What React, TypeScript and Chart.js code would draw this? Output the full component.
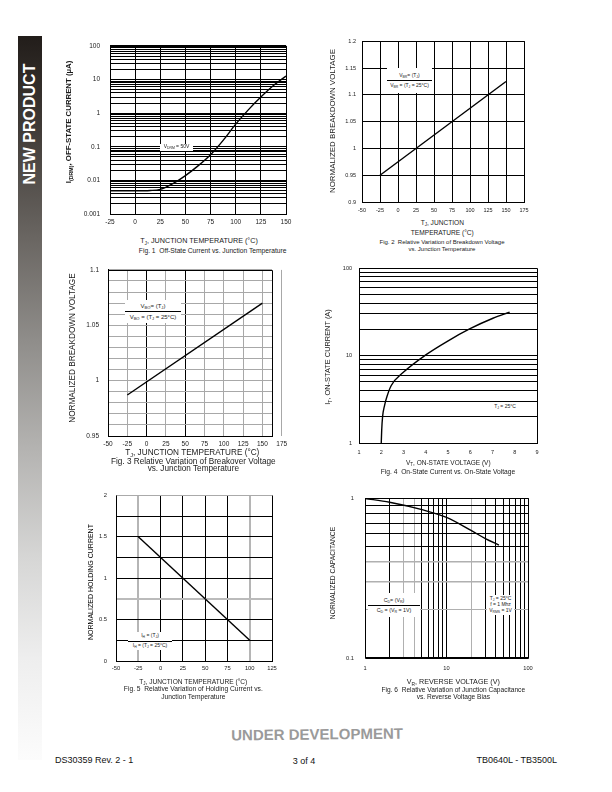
import React, { useEffect, useRef } from 'react';
import { Chart, registerables } from 'chart.js';

Chart.register(...registerables);

const FONT = "'Liberation Sans', Arial, Helvetica, sans-serif";

// ---------- grid helper (log decades with 1..9 minor lines) ----------
const logGrid = (a: number, b: number) => {
  const out: number[] = [];
  for (let e = a; e < b; e++) for (let m = 1; m < 10; m++) out.push(Number((m * Math.pow(10, e)).toPrecision(6)));
  out.push(Number(Math.pow(10, b).toPrecision(6)));
  return out;
};

// ---------- Fig 1 : Off-state current vs junction temperature ----------
const fig1Temp = [-25, 0, 15, 25, 37.5, 50, 62.5, 75, 87.5, 100, 112.5, 125, 137.5, 150];
const fig1Current = [0.0049, 0.0049, 0.005, 0.0054, 0.008, 0.0139, 0.027, 0.058, 0.155, 0.47, 1.25, 3.0, 6.6, 12.7];
const fig1XTicks = [-25, 0, 25, 50, 75, 100, 125, 150];
const fig1YTicks = logGrid(-3, 2);
const fig1YLabels = [0.001, 0.01, 0.1, 1, 10, 100];

// ---------- Fig 2 : breakdown voltage ----------
const fig2Temp = [-25, 150];
const fig2Value = [0.95, 1.125];
const fig2XTicks = [-50, -25, 0, 25, 50, 75, 100, 125, 150, 175];
const fig2YTicks = [0.9, 0.95, 1, 1.05, 1.1, 1.15, 1.2];

// ---------- Fig 3 : breakover voltage ----------
const fig3Temp = [-25, 150];
const fig3Value = [0.987, 1.07];
const fig3XTicks = [-50, -25, 0, 25, 50, 75, 100, 125, 150, 175];
const fig3YTicks = [0.95, 0.96, 0.97, 0.98, 0.99, 1, 1.01, 1.02, 1.03, 1.04, 1.05, 1.06, 1.07, 1.08, 1.09, 1.1];
const fig3YLabels = [0.95, 1, 1.05, 1.1];

// ---------- Fig 4 : on-state current vs voltage ----------
const fig4Voltage = [2.0, 2.02, 2.06, 2.15, 2.25, 2.45, 2.98, 4.0, 4.97, 5.97, 7.02, 7.77];
const fig4Current = [1, 1.4, 2.0, 2.7, 3.36, 4.55, 6.4, 10.2, 14.6, 20.2, 26.8, 31.4];
const fig4XTicks = [1, 2, 3, 4, 5, 6, 7, 8, 9];
const fig4YTicks = logGrid(0, 2);
const fig4YLabels = [1, 10, 100];

// ---------- Fig 5 : holding current ----------
const fig5Temp = [-25, 100];
const fig5Value = [1.5, 0.25];
const fig5XTicks = [-50, -25, 0, 25, 50, 75, 100, 125];
const fig5YTicks = [0, 0.25, 0.5, 0.75, 1, 1.25, 1.5, 1.75, 2];
const fig5YLabels = [0, 0.5, 1, 1.5, 2];

// ---------- Fig 6 : junction capacitance ----------
const fig6Voltage = [1, 2, 5, 10, 20, 30, 44];
const fig6Cap = [1, 0.946, 0.85, 0.76, 0.63, 0.56, 0.51];
const fig6XTicks = logGrid(0, 2);
const fig6XLabels = [1, 10, 100];
const fig6YTicks = logGrid(-1, 0);
const fig6YLabels = [0.1, 1];

type Frame = { L: number; T: number; R: number; B: number; padL: number; padT: number; padR: number; padB: number };

interface AxisSpec {
  type: 'linear' | 'logarithmic';
  min: number;
  max: number;
  ticks: number[];
  labels: number[];
  pad: number;
  size: number;
  grid?: boolean;
  color?: (v: number) => string;
  width?: (v: number) => number;
}

function axis(kind: 'x' | 'y', f: Frame, a: AxisSpec) {
  return {
    type: a.type,
    min: a.min,
    max: a.max,
    position: kind === 'x' ? 'bottom' : 'left',
    afterBuildTicks: (s: any) => {
      s.ticks = a.ticks.map((v) => ({ value: v }));
    },
    afterFit: (s: any) => {
      if (kind === 'x') s.height = f.padB;
      else s.width = f.padL;
    },
    grid: {
      display: a.grid !== false,
      drawTicks: false,
      color: (c: any) => (a.color ? a.color(c.tick ? c.tick.value : NaN) : '#000'),
      lineWidth: (c: any) => (a.width ? a.width(c.tick ? c.tick.value : NaN) : 1),
    },
    border: { display: true, color: '#000', width: 1 },
    ticks: {
      autoSkip: false,
      maxRotation: 0,
      minRotation: 0,
      padding: a.pad,
      color: '#1a1a1a',
      font: { family: FONT, size: a.size },
      callback: (v: any) => (a.labels.indexOf(Number(v)) >= 0 ? String(v) : ''),
    },
  };
}

const framePlugin = {
  id: 'frame',
  afterDraw(chart: any, _a: any, o: any) {
    const { left, top, right, bottom } = chart.chartArea;
    const ctx = chart.ctx;
    const l = Math.round(left) + 0.5;
    const r = Math.round(right) + 0.5;
    const t = Math.round(top) + 0.5;
    const b = Math.round(bottom) + 0.5;
    ctx.save();
    ctx.lineWidth = 1;
    ctx.strokeStyle = '#000';
    ctx.beginPath();
    ctx.moveTo(l, t);
    ctx.lineTo(l, b);
    ctx.lineTo(r, b);
    ctx.lineTo(r, t);
    ctx.stroke();
    ctx.strokeStyle = (o && o.top) || '#000';
    ctx.beginPath();
    ctx.moveTo(l, t);
    ctx.lineTo(r, t);
    ctx.stroke();
    ctx.restore();
  },
};

function lineConfig(f: Frame, xs: number[], ys: number[], xa: AxisSpec, ya: AxisSpec, frameOpts: any = {}) {
  return {
    type: 'line',
    data: {
      datasets: [
        {
          data: xs.map((x, i) => ({ x, y: ys[i] })),
          borderColor: '#000',
          borderWidth: 1.4,
          pointRadius: 0,
          cubicInterpolationMode: 'monotone',
          fill: false,
        },
      ],
    },
    options: {
      animation: false,
      responsive: false,
      maintainAspectRatio: false,
      devicePixelRatio: 1,
      events: [],
      layout: { padding: { left: 0, top: f.padT, right: f.padR, bottom: 0 } },
      plugins: { legend: { display: false }, tooltip: { enabled: false }, title: { display: false }, frame: frameOpts },
      scales: { x: axis('x', f, xa), y: axis('y', f, ya) },
    },
    plugins: [framePlugin],
  } as any;
}

function ChartCanvas({ frame, build }: { frame: Frame; build: () => any }) {
  const ref = useRef<HTMLCanvasElement>(null);
  useEffect(() => {
    const chart = new Chart(ref.current as HTMLCanvasElement, build());
    return () => chart.destroy();
  }, []);
  const w = frame.R - frame.L + frame.padL + frame.padR;
  const h = frame.B - frame.T + frame.padT + frame.padB;
  return (
    <div style={{ position: 'absolute', left: frame.L - frame.padL, top: frame.T - frame.padT, width: w, height: h }}>
      <canvas ref={ref} width={w} height={h} style={{ width: w, height: h, display: 'block' }} />
    </div>
  );
}

const Sb = ({ children }: any) => (
  <sub style={{ fontSize: '68%', verticalAlign: '-0.3em', lineHeight: 0 }}>{children}</sub>
);

const Txt = ({ x, y, s, w, rot, c, children }: any) => (
  <div
    style={{
      position: 'absolute',
      left: x,
      top: y,
      transform: `translate(-50%,-50%)${rot ? ' rotate(-90deg)' : ''}`,
      fontFamily: FONT,
      fontSize: s,
      fontWeight: w || 'normal',
      color: c || '#1a1a1a',
      whiteSpace: 'nowrap',
      lineHeight: 1,
    }}
  >
    {children}
  </div>
);

const Note = ({ x, y, w, h, s, children }: any) => (
  <div
    style={{
      position: 'absolute',
      left: x,
      top: y,
      width: w,
      height: h,
      background: '#fff',
      fontFamily: FONT,
      fontSize: s,
      color: '#1a1a1a',
      display: 'flex',
      flexDirection: 'column',
      alignItems: 'center',
      justifyContent: 'center',
      whiteSpace: 'nowrap',
      lineHeight: 1.15,
    }}
  >
    {children}
  </div>
);

const Bar = () => <div style={{ alignSelf: 'stretch', borderTop: '1px solid #000', margin: '1.5px 0' }} />;

// frames (plot areas in page pixels)
const f1: Frame = { L: 110, T: 40, R: 286, B: 214, padL: 40, padT: 8, padR: 14, padB: 16 };
const f2: Frame = { L: 362, T: 40, R: 524, B: 202, padL: 30, padT: 8, padR: 12, padB: 14 };
const f3: Frame = { L: 108, T: 265, R: 272, B: 436, padL: 30, padT: 8, padR: 24, padB: 14 };
const f4: Frame = { L: 359, T: 266, R: 537, B: 443, padL: 25, padT: 8, padR: 10, padB: 16 };
const f5: Frame = { L: 116, T: 491, R: 272, B: 661, padL: 20, padT: 8, padR: 12, padB: 14 };
const f6: Frame = { L: 365, T: 492, R: 528, B: 658, padL: 25, padT: 8, padR: 12, padB: 18 };

const GRAY = '#a8a8a8';

export default function App() {
  return (
    <div style={{ position: 'absolute', left: 0, top: 0, width: 612, height: 792, background: '#fff', overflow: 'hidden' }}>
      {/* side bar */}
      <div
        style={{
          position: 'absolute',
          left: 18,
          top: 36,
          width: 24,
          height: 724,
          background:
            'linear-gradient(to bottom, #221d1a 0%, #3e3935 12%, #6a6662 28%, #8f8d8a 42%, #b4b3b1 57%, #d6d6d5 72%, #eeeeee 86%, #fcfcfc 100%)',
        }}
      />
      <Txt x={30} y={124} s={16} w="bold" rot c="#fff">
        NEW PRODUCT
      </Txt>

      {/* Fig 1 */}
      <ChartCanvas
        frame={f1}
        build={() =>
          lineConfig(
            f1,
            fig1Temp,
            fig1Current,
            { type: 'linear', min: -25, max: 150, ticks: fig1XTicks, labels: fig1XTicks, pad: 4.8, size: 6.5 },
            { type: 'logarithmic', min: 0.001, max: 100, ticks: fig1YTicks, labels: fig1YLabels, pad: 10, size: 6.5 }
          )
        }
      />
      <Note x={160} y={143.5} w={33} h={7.5} s={5}>
        <div>
          V<Sb>DRM</Sb> = 50V
        </div>
      </Note>
      <Txt x={69} y={122} s={7.8} w="bold" rot>
        I<Sb>(DRM)</Sb>, OFF-STATE CURRENT (µA)
      </Txt>
      <Txt x={199} y={240.7} s={7.2}>
        T<Sb>J</Sb>, JUNCTION TEMPERATURE (°C)
      </Txt>
      <Txt x={212.7} y={251} s={6.7}>
        Fig. 1&nbsp; Off-State Current vs. Junction Temperature
      </Txt>

      {/* Fig 2 */}
      <ChartCanvas
        frame={f2}
        build={() =>
          lineConfig(
            f2,
            fig2Temp,
            fig2Value,
            { type: 'linear', min: -50, max: 175, ticks: fig2XTicks, labels: fig2XTicks, pad: 4.7, size: 5.5 },
            { type: 'linear', min: 0.9, max: 1.2, ticks: fig2YTicks, labels: fig2YTicks, pad: 6, size: 5.5 }
          )
        }
      />
      <Note x={387} y={68} w={45} h={25} s={5}>
        <div>
          V<Sb>BR</Sb>= (T<Sb>J</Sb>)
        </div>
        <Bar />
        <div>
          V<Sb>BR</Sb> = (T<Sb>J</Sb> = 25°C)
        </div>
      </Note>
      <Txt x={333.3} y={121} s={7.9} rot>
        NORMALIZED BREAKDOWN VOLTAGE
      </Txt>
      <Txt x={442.3} y={223.3} s={6.6}>
        T<Sb>J</Sb>, JUNCTION
      </Txt>
      <Txt x={442.3} y={232.7} s={6.6}>
        TEMPERATURE (°C)
      </Txt>
      <Txt x={442} y={241.7} s={6}>
        Fig. 2&nbsp; Relative Variation of Breakdown Voltage
      </Txt>
      <Txt x={442} y={249.3} s={6}>
        vs. Junction Temperature
      </Txt>

      {/* Fig 3 */}
      <ChartCanvas
        frame={f3}
        build={() =>
          lineConfig(
            f3,
            fig3Temp,
            fig3Value,
            {
              type: 'linear',
              min: -50,
              max: 162.4,
              ticks: fig3XTicks,
              labels: fig3XTicks,
              pad: 4.1,
              size: 6.5,
              color: (v) => (v === 0 || v === 50 ? '#000' : GRAY),
            },
            {
              type: 'linear',
              min: 0.95,
              max: 1.1,
              ticks: fig3YTicks,
              labels: fig3YLabels,
              pad: 9,
              size: 6.5,
              color: () => GRAY,
            }
          )
        }
      />
      <Note x={125} y={300} w={56} h={23} s={6}>
        <div>
          V<Sb>BO</Sb>= (T<Sb>J</Sb>)
        </div>
        <Bar />
        <div>
          V<Sb>BO</Sb> = (T<Sb>J</Sb> = 25°C)
        </div>
      </Note>
      <Txt x={73.3} y={348.3} s={8.2} rot>
        NORMALIZED BREAKDOWN VOLTAGE
      </Txt>
      <Txt x={192.3} y={453.3} s={8.2}>
        T<Sb>J</Sb>, JUNCTION TEMPERATURE (°C)
      </Txt>
      <Txt x={193.3} y={461.7} s={8.2}>
        Fig. 3 Relative Variation of Breakover Voltage
      </Txt>
      <Txt x={193.3} y={469.3} s={8.2}>
        vs. Junction Temperature
      </Txt>

      {/* Fig 4 */}
      <ChartCanvas
        frame={f4}
        build={() =>
          lineConfig(
            f4,
            fig4Voltage,
            fig4Current,
            { type: 'linear', min: 1, max: 9, ticks: fig4XTicks, labels: fig4XTicks, pad: 6.4, size: 5.5, grid: false },
            { type: 'logarithmic', min: 1, max: 100, ticks: fig4YTicks, labels: fig4YLabels, pad: 7, size: 5.5 }
          )
        }
      />
      <Note x={493} y={402} w={24} h={10} s={5}>
        <div>
          T<Sb>J</Sb> = 25°C
        </div>
      </Note>
      <Txt x={328.3} y={356.7} s={7.4} rot>
        I<Sb>T</Sb>, ON-STATE CURRENT (A)
      </Txt>
      <Txt x={448.3} y={463.3} s={6.5}>
        V<Sb>T</Sb>, ON-STATE VOLTAGE (V)
      </Txt>
      <Txt x={448} y={471.7} s={6.7}>
        Fig. 4&nbsp; On-State Current vs. On-State Voltage
      </Txt>

      {/* Fig 5 */}
      <ChartCanvas
        frame={f5}
        build={() =>
          lineConfig(
            f5,
            fig5Temp,
            fig5Value,
            {
              type: 'linear',
              min: -50,
              max: 125,
              ticks: fig5XTicks,
              labels: fig5XTicks,
              pad: 3.8,
              size: 5.8,
              color: (v) => (v === -25 || v === 100 ? '#b5b5b5' : '#000'),
              width: (v) => (v === -25 || v === 100 ? 2 : 1),
            },
            {
              type: 'linear',
              min: 0,
              max: 2,
              ticks: fig5YTicks,
              labels: fig5YLabels,
              pad: 9,
              size: 5.8,
              color: (v) => (v === 0.75 ? '#bbbbbb' : v === 2 ? '#aaaaaa' : '#000'),
              width: (v) => (v === 0.75 ? 2 : 1),
            },
            { top: '#aaaaaa' }
          )
        }
      />
      <Note x={128} y={632} w={44} h={18} s={5}>
        <div>
          I<Sb>H</Sb> = (T<Sb>J</Sb>)
        </div>
        <Bar />
        <div>
          I<Sb>H</Sb> = (T<Sb>J</Sb> = 25°C)
        </div>
      </Note>
      <Txt x={90} y={582} s={7} rot c="#000">
        NORMALIZED HOLDING CURRENT
      </Txt>
      <Txt x={193.3} y={681.7} s={6.6}>
        T<Sb>J</Sb>, JUNCTION TEMPERATURE (°C)
      </Txt>
      <Txt x={193.3} y={689.3} s={6.7}>
        Fig. 5&nbsp; Relative Variation of Holding Current vs.
      </Txt>
      <Txt x={193.3} y={696.7} s={6.7}>
        Junction Temperature
      </Txt>

      {/* Fig 6 */}
      <ChartCanvas
        frame={f6}
        build={() =>
          lineConfig(
            f6,
            fig6Voltage,
            fig6Cap,
            {
              type: 'logarithmic',
              min: 1,
              max: 100,
              ticks: fig6XTicks,
              labels: fig6XLabels,
              pad: 6.9,
              size: 5.7,
              color: (v) => (v === 3 || v === 4 || v === 20 ? '#b0b0b0' : '#000'),
            },
            {
              type: 'logarithmic',
              min: 0.1,
              max: 1,
              ticks: fig6YTicks,
              labels: fig6YLabels,
              pad: 11,
              size: 5.7,
              color: (v) => (v === 0.2 || v === 0.3 || v === 0.4 ? '#b0b0b0' : '#000'),
              width: (v) => (v === 0.3 || v === 0.4 ? 1.5 : 1),
            }
          )
        }
      />
      <Note x={368} y={593} w={52} h={24} s={5.3}>
        <div>
          C<Sb>D</Sb>= (V<Sb>R</Sb>)
        </div>
        <Bar />
        <div>
          C<Sb>D</Sb> = (V<Sb>R</Sb> = 1V)
        </div>
      </Note>
      <Note x={487} y={595} w={27} h={20} s={5}>
        <div>
          T<Sb>J</Sb> = 25°C
        </div>
        <div>f = 1 Mhz</div>
        <div>
          V<Sb>RMS</Sb> = 1V
        </div>
      </Note>
      <Txt x={333.3} y={573.3} s={6.7} rot>
        NORMALIZED CAPACITANCE
      </Txt>
      <Txt x={453.3} y={681.7} s={7.2}>
        V<Sb>R</Sb>, REVERSE VOLTAGE (V)
      </Txt>
      <Txt x={453.3} y={690} s={6.6}>
        Fig. 6&nbsp; Relative Variation of Junction Capacitance
      </Txt>
      <Txt x={453.3} y={697.3} s={6.6}>
        vs. Reverse Voltage Bias
      </Txt>

      {/* footer */}
      <div
        style={{
          position: 'absolute',
          left: 317,
          top: 734,
          transform: 'translate(-50%,-50%) rotate(-0.6deg)',
          fontFamily: FONT,
          fontSize: 15,
          fontWeight: 'bold',
          color: '#9a9a9a',
          whiteSpace: 'nowrap',
          lineHeight: 1,
        }}
      >
        UNDER DEVELOPMENT
      </div>
      <div style={{ position: 'absolute', left: 55, top: 756, fontFamily: FONT, fontSize: 9, color: '#111', whiteSpace: 'nowrap', lineHeight: 1 }}>
        DS30359 Rev. 2 - 1
      </div>
      <Txt x={304} y={760.5} s={9} c="#111">
        3 of 4
      </Txt>
      <div
        style={{
          position: 'absolute',
          right: 612 - 557,
          top: 756,
          fontFamily: FONT,
          fontSize: 9,
          color: '#111',
          whiteSpace: 'nowrap',
          lineHeight: 1,
        }}
      >
        TB0640L - TB3500L
      </div>
    </div>
  );
}
